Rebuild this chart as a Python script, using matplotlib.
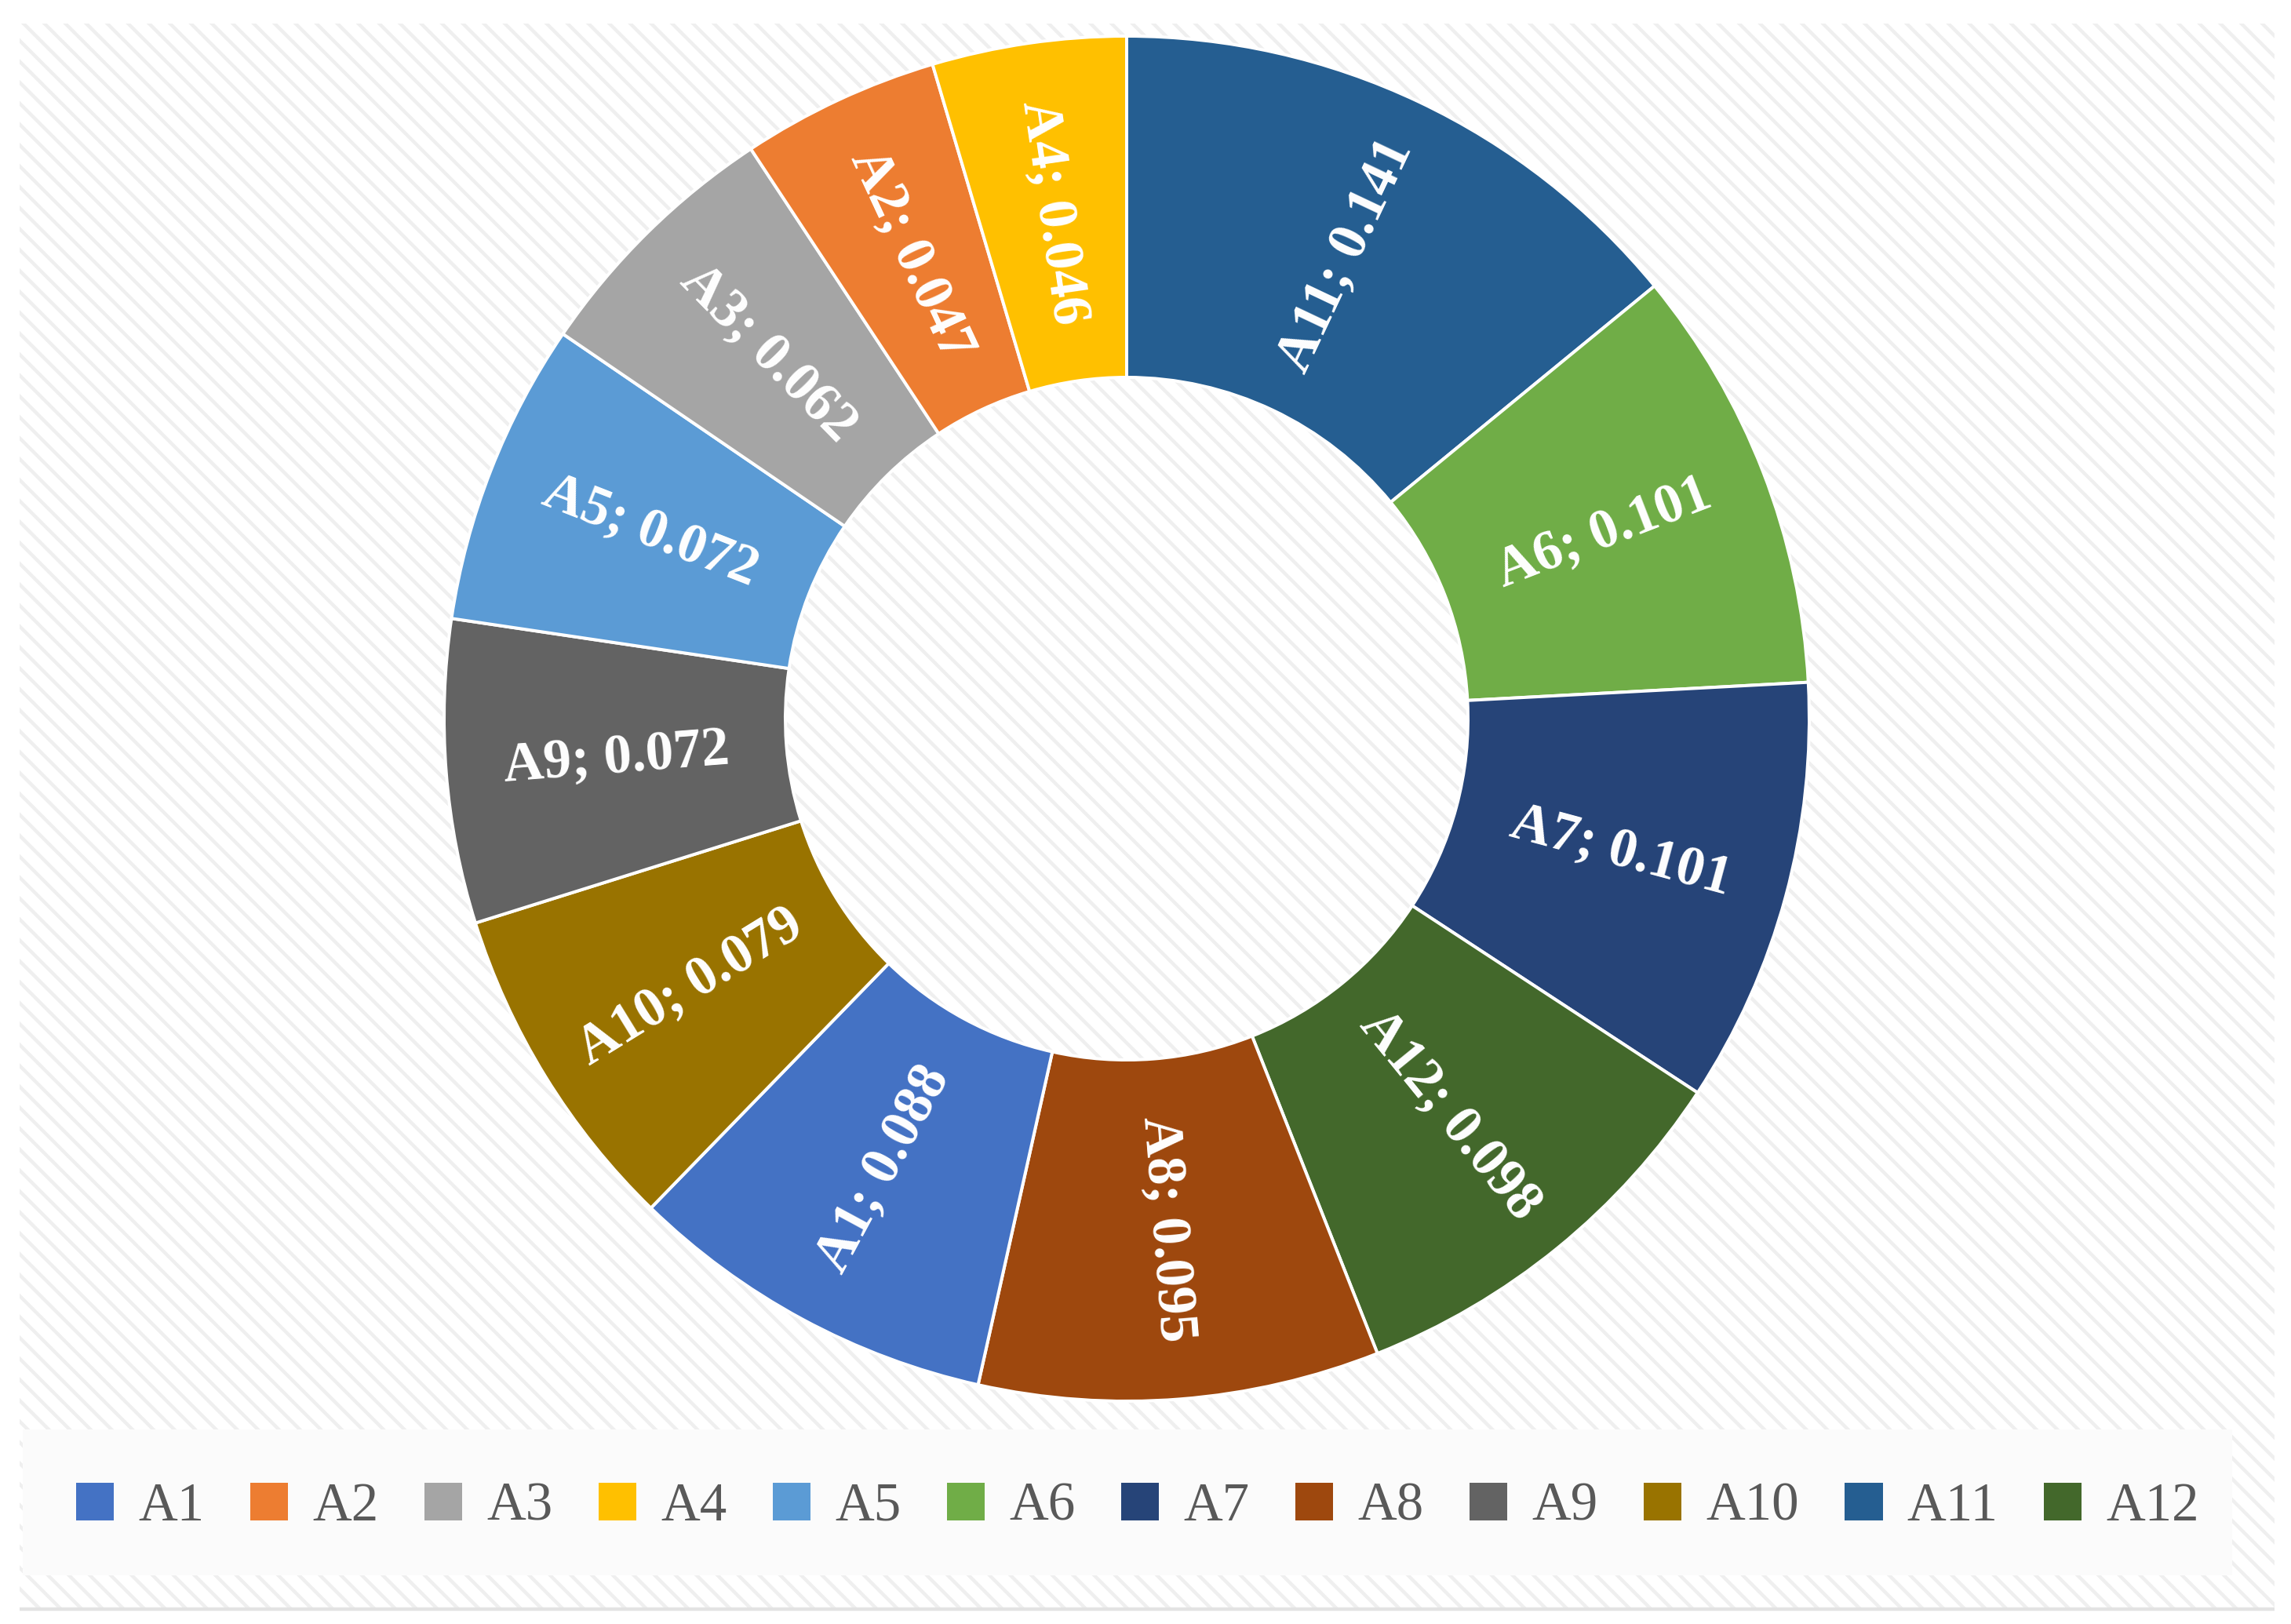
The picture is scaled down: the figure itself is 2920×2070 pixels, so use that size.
import matplotlib
matplotlib.use("Agg")
import matplotlib.pyplot as plt
from matplotlib.patches import Rectangle, Patch
import numpy as np

# ---- data ----
categories = ['A1', 'A2', 'A3', 'A4', 'A5', 'A6', 'A7', 'A8', 'A9', 'A10', 'A11', 'A12']
values = [0.088, 0.047, 0.062, 0.046, 0.072, 0.101, 0.101, 0.095, 0.072, 0.079, 0.141, 0.098]
colors = ['#4472C4', '#ED7D31', '#A5A5A5', '#FFC000', '#5B9BD5', '#70AD47',
          '#264478', '#9E480E', '#636363', '#997300', '#255E91', '#43682B']
# order of the slices clockwise from 12 o'clock
plot_order = ['A11', 'A6', 'A7', 'A12', 'A8', 'A1', 'A10', 'A9', 'A5', 'A3', 'A2', 'A4']

# ---- figure in pixel units ----
W, H = 2920, 2070
DPI = 160
plt.rcParams['hatch.linewidth'] = 2.0
fig = plt.figure(figsize=(W / DPI, H / DPI), dpi=DPI, facecolor='white')
ax = fig.add_axes([0, 0, 1, 1])

idx = [categories.index(c) for c in plot_order]
pv = [values[i] for i in idx]
pc = [colors[i] for i in idx]

cx, cy = 1436, H - 916
R = 870
wedges, _ = ax.pie(pv, colors=pc, startangle=90, counterclock=False,
                   radius=R, center=(cx, cy),
                   wedgeprops=dict(width=R * 0.5, edgecolor='white', linewidth=1.8))
for w in wedges:
    w.set_zorder(3)

ax.set_xlim(0, W)
ax.set_ylim(0, H)
ax.set_aspect('equal')
ax.axis('off')

# background with diagonal stripes
bg = Rectangle((25, H - 2050), 2874, 2020, facecolor='white', edgecolor='#efefef',
               hatch='\\\\', linewidth=0, zorder=0)
ax.add_patch(bg)
ax.plot([25, 2899], [H - 2051, H - 2051], color='#e3e3e3', lw=2.0, zorder=1,
        solid_capstyle='butt')
# legend band
band = Rectangle((29, H - 2008), 2816, 186, facecolor='#fbfbfb', edgecolor='none', zorder=1)
ax.add_patch(band)

# labels inside slices
r_lab = R * 0.75
for w, name in zip(wedges, plot_order):
    mid = (w.theta1 + w.theta2) / 2.0
    x = cx + r_lab * np.cos(np.radians(mid))
    y = cy + r_lab * np.sin(np.radians(mid))
    rot = ((mid + 90) % 180) - 90
    v = values[categories.index(name)]
    ax.text(x, y, f"{name}; {v:.3f}", rotation=rot, rotation_mode='anchor',
            ha='center', va='center', color='white', fontsize=32,
            family='Liberation Serif', fontweight='bold', zorder=5)

# legend
handles = [Patch(facecolor=c, edgecolor='none') for c in colors]
leg = ax.legend(handles, categories, loc='center', bbox_to_anchor=(1450 / W, 1 - 1921 / H),
                ncol=12, frameon=False, handlelength=0.7, handleheight=0.7,
                handletextpad=0.45, columnspacing=0.85,
                prop=dict(family='Liberation Serif', size=31))
for t in leg.get_texts():
    t.set_color('#595959')
leg.set_zorder(6)

fig.savefig('out.png', dpi=DPI, facecolor='white')
